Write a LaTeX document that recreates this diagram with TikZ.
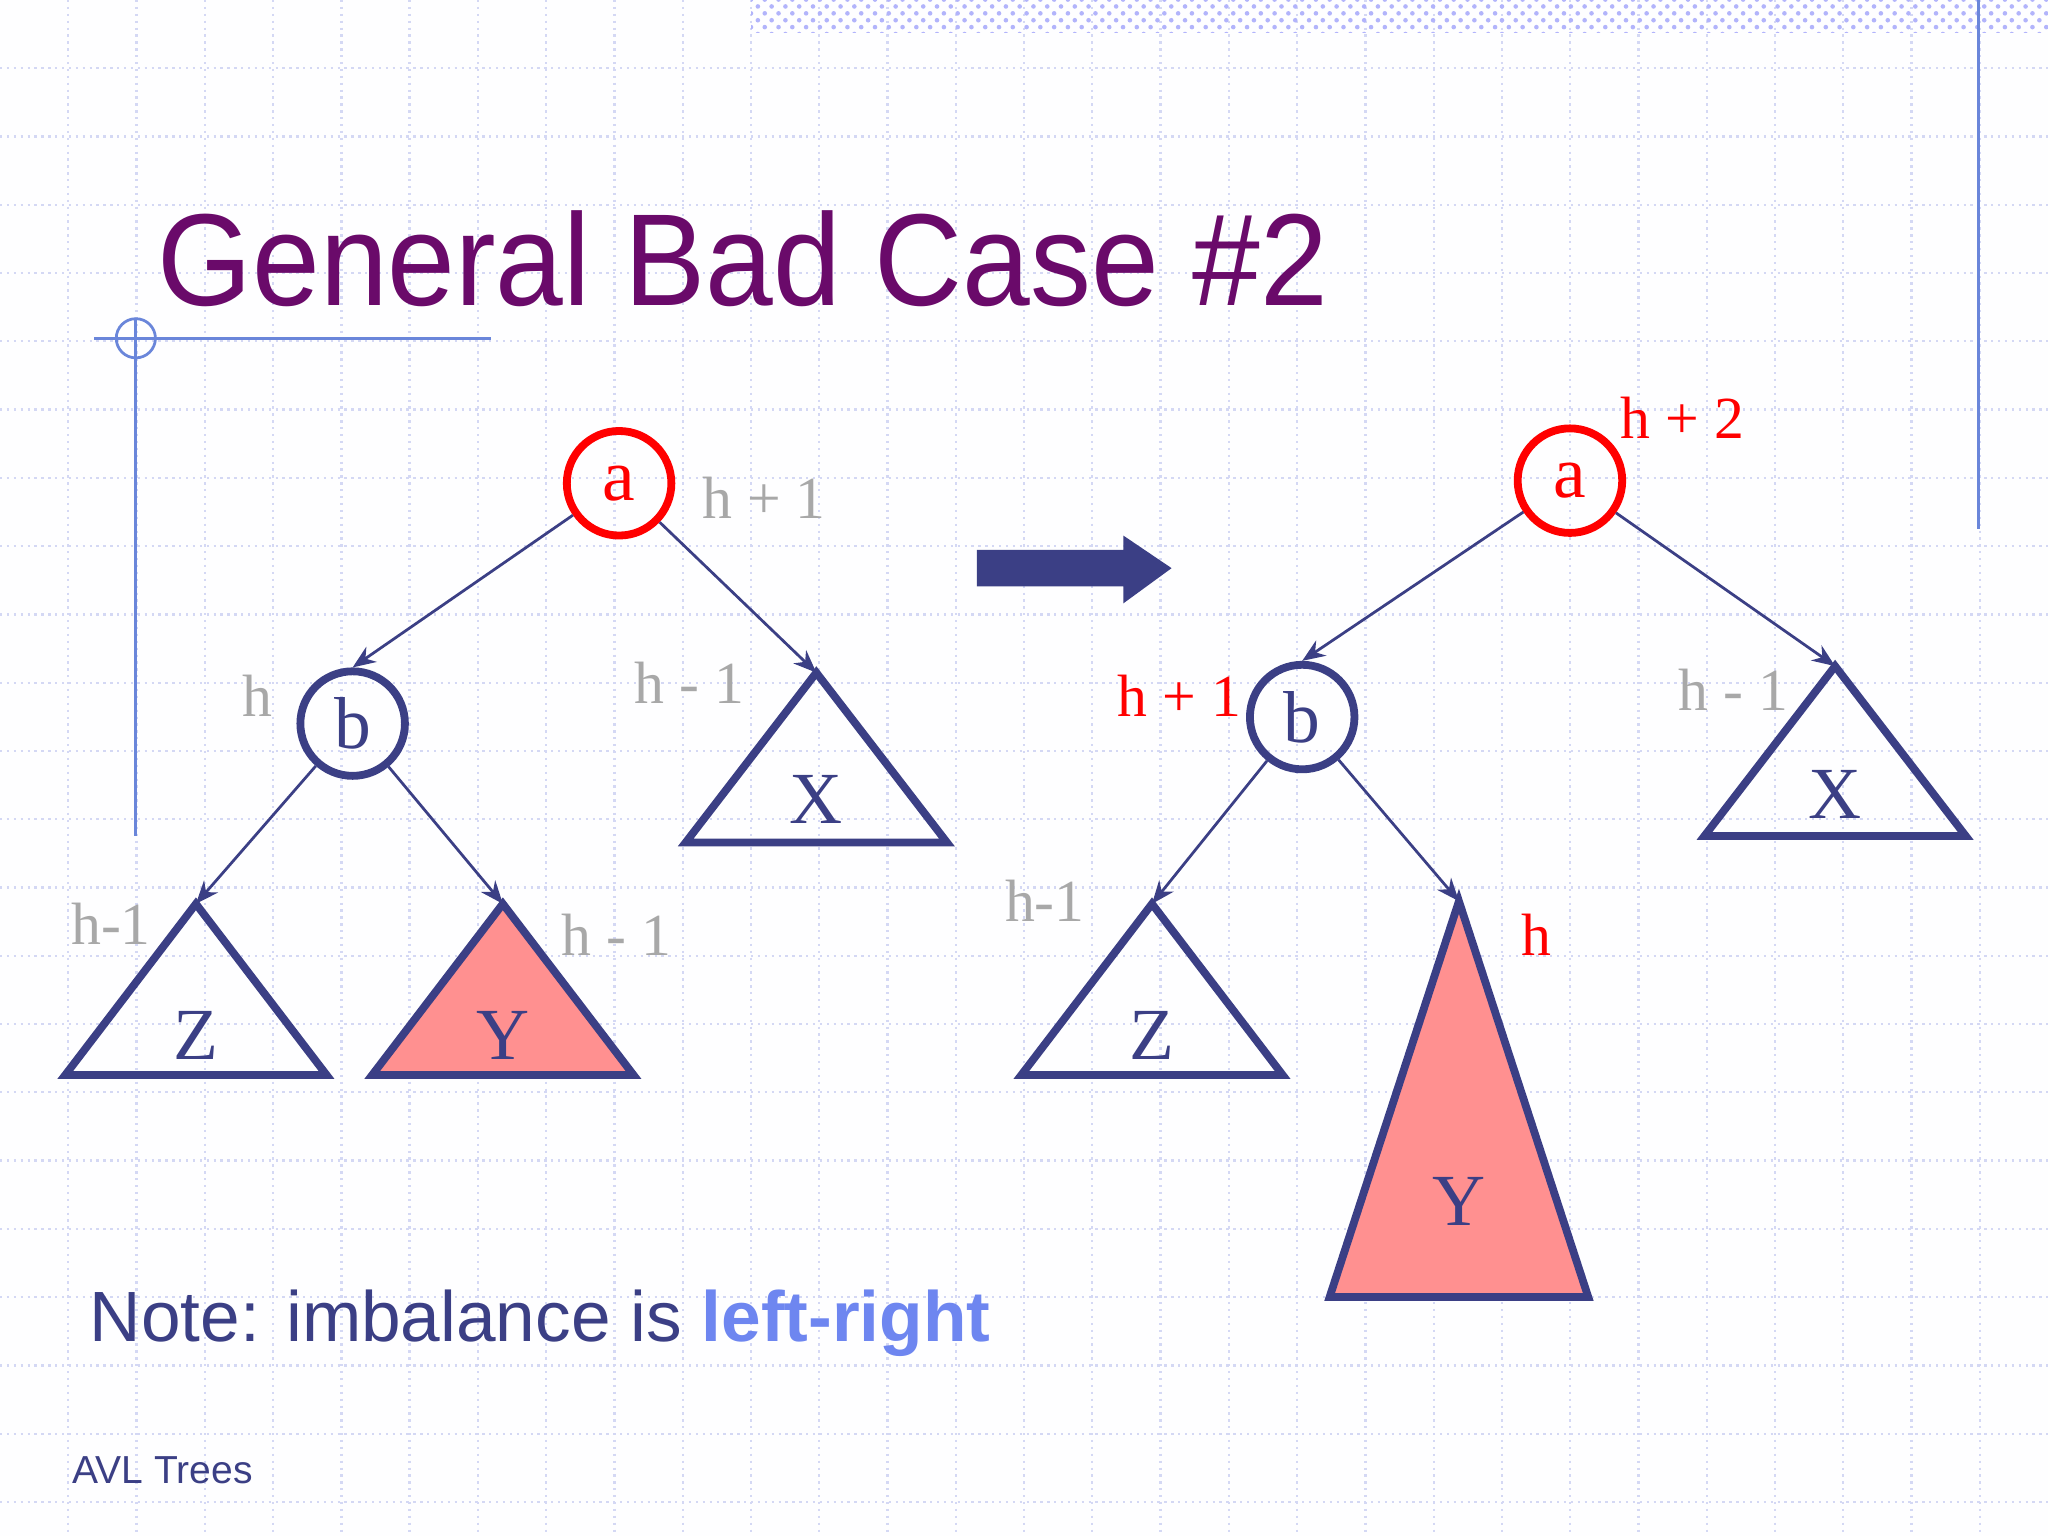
\documentclass[tikz,border=0pt]{standalone}
\usepackage{fontspec}
\setmainfont{Liberation Serif}
\newfontfamily\titlefont{Liberation Sans}
\usetikzlibrary{arrows.meta,patterns}
\definecolor{navy}{HTML}{3B3F85}
\definecolor{gridc}{HTML}{D4D8F4}
\definecolor{ttl}{HTML}{6A0A6A}
\definecolor{pinkf}{HTML}{FF9090}
\definecolor{lbl}{HTML}{A8A8A8}
\definecolor{lr}{HTML}{6E86F0}
\definecolor{deco}{HTML}{6A86DA}
\tikzset{
  x=0.01cm,y=-0.01cm,
  redc/.style={circle,draw=red,line width=1.7pt,minimum size=0.8cm,inner sep=0pt,font=\fontsize{16}{16}\selectfont,text=red},
  bluec/.style={circle,draw=navy,line width=1.7pt,minimum size=0.8cm,inner sep=0pt,font=\fontsize{16}{16}\selectfont,text=navy},
  tri/.style={draw=navy,line width=1.7pt,line join=miter},
  edge/.style={draw=navy,line width=0.6pt,-{Stealth[length=5pt,width=4pt]}},
  glab/.style={text=lbl,font=\fontsize{13}{13}\selectfont},
  rlab/.style={text=red,font=\fontsize{13}{13}\selectfont},
  letter/.style={text=navy,font=\fontsize{16}{16}\selectfont}
}
\begin{document}
\begin{tikzpicture}
\useasboundingbox (0,0) rectangle (1568,1176);
\fill[white!97!gridc] (0,0) rectangle (1568,1176);
\foreach \i in {1,...,29} \draw[gridc,densely dotted,line width=0.5pt] ({\i*52.27},0) -- ({\i*52.27},1176);
\foreach \j in {1,...,22} \draw[gridc,densely dotted,line width=0.5pt] (0,{\j*52.27}) -- (1568,{\j*52.27});
\fill[pattern=crosshatch dots,pattern color=gridc!60!blue!60] (575,0) rectangle (1568,25);
\draw[deco,line width=0.6pt] (1515,0) -- (1515,405);
\draw[deco,line width=0.6pt] (72,259) -- (376,259);
\draw[deco,line width=0.6pt] (104,245) -- (104,640);
\draw[deco,line width=0.6pt] (104,259) circle (15);
\node[anchor=base west,inner sep=0,text=ttl,font=\titlefont\fontsize{28.5}{28.5}\selectfont] (title) at (120,234) {\scalebox{0.93}[1]{General Bad Case \#2}};
% left tree
\node[redc] (a1) at (474,370) {a};
\node[bluec] (b1) at (270,554) {b};
\coordinate (x1) at (625,515); \draw[tri] (x1) -- (725,645) -- (525,645) -- cycle;
\coordinate (z1) at (150,692); \draw[tri] (z1) -- (250,823) -- (50,823) -- cycle;
\coordinate (y1) at (385,692); \draw[tri,fill=pinkf] (y1) -- (485,823) -- (285,823) -- cycle;
\node[letter] (lx1) at (625,612) {X};
\node[letter] (lz1) at (150,793) {Z};
\node[letter] (ly1) at (385,793) {Y};
\draw[edge] (a1) -- (b1.north);
\draw[edge] (a1) -- (x1);
\draw[edge] (b1) -- (z1);
\draw[edge] (b1) -- (y1);
\node[glab] (t1) at (585,381) {h + 1};
\node[glab] (t2) at (197,533) {h};
\node[glab] (t3) at (528,523) {h - 1};
\node[glab] (t4) at (85,707) {h-1};
\node[glab] (t5) at (472,716) {h - 1};
% arrow
\fill[navy] (748,421) -- (860,421) -- (860,410) -- (897,435) -- (860,462) -- (860,449) -- (748,449) -- cycle;
% right tree
\node[redc] (a2) at (1202,368) {a};
\node[bluec] (b2) at (997,549) {b};
\coordinate (x2) at (1405,510); \draw[tri] (x2) -- (1505,640) -- (1305,640) -- cycle;
\coordinate (z2) at (882,692); \draw[tri] (z2) -- (982,823) -- (782,823) -- cycle;
\coordinate (y2) at (1117,690); \draw[tri,fill=pinkf] (y2) -- (1216,993) -- (1018,993) -- cycle;
\node[letter] (lx2) at (1405,608) {X};
\node[letter] (lz2) at (882,793) {Z};
\node[letter] (ly2) at (1117,920) {Y};
\draw[edge] (a2) -- (b2.north);
\draw[edge] (a2) -- (x2);
\draw[edge] (b2) -- (z2);
\draw[edge] (b2) -- (y2);
\node[rlab] (r1) at (1288,320) {h + 2};
\node[rlab] (r2) at (903,533) {h + 1};
\node[rlab] (r3) at (1176,716) {h};
\node[glab] (r4) at (1327,528) {h - 1};
\node[glab] (r5) at (800,690) {h-1};
% notes
\node[anchor=base west,inner sep=0,font=\titlefont\fontsize{15.5}{15.5}\selectfont,text=navy] (note) at (68,1027) {Note: imbalance is \textcolor{lr}{\bfseries left-right}};
\node[anchor=base west,inner sep=0,font=\titlefont\fontsize{8.5}{8.5}\selectfont,text=navy] (avl) at (55,1136) {AVL Trees};
\end{tikzpicture}
\end{document}
